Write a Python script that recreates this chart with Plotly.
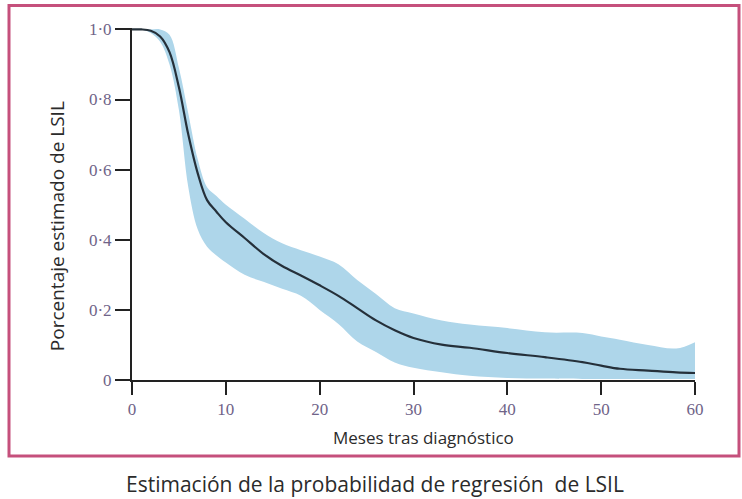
import plotly.graph_objects as go

# Data
months = [0, 1, 2, 3, 4, 5, 6, 7, 8, 9, 10, 12, 14, 16, 18, 20, 22, 24, 26, 28, 30,
          33, 36, 40, 44, 48, 50, 52, 55, 58, 60]
estimate = [1.0, 1.0, 0.996, 0.98, 0.935, 0.835, 0.70, 0.59, 0.513, 0.48, 0.45, 0.405,
            0.36, 0.325, 0.298, 0.27, 0.24, 0.205, 0.17, 0.142, 0.12,
            0.101, 0.092, 0.077, 0.065, 0.051, 0.041, 0.032, 0.027, 0.022, 0.02]
upper = [1.0, 1.0, 1.0, 1.0, 0.985, 0.89, 0.76, 0.63, 0.55, 0.525, 0.50, 0.46,
         0.42, 0.39, 0.37, 0.352, 0.33, 0.285, 0.245, 0.205, 0.19,
         0.17, 0.158, 0.148, 0.136, 0.134, 0.124, 0.115, 0.10, 0.09, 0.108]
lower = [1.0, 1.0, 0.99, 0.965, 0.90, 0.77, 0.55, 0.43, 0.38, 0.355, 0.335, 0.30,
         0.28, 0.26, 0.24, 0.20, 0.16, 0.11, 0.08, 0.05, 0.035,
         0.022, 0.012, 0.006, 0.004, 0.003, 0.003, 0.003, 0.003, 0.003, 0.003]

x_tickvals = [0, 10, 20, 30, 40, 50, 60]
x_ticktext = ["0", "10", "20", "30", "40", "50", "60"]
y_tickvals = [0, 0.2, 0.4, 0.6, 0.8, 1.0]
y_ticktext = ["0", "0·2", "0·4", "0·6", "0·8", "1·0"]

band_color = "#aed6ea"
line_color = "#25303a"
tick_font = dict(family="Liberation Serif", size=17, color="#6f6388")

fig = go.Figure()
fig.add_trace(go.Scatter(x=months, y=lower, mode="lines", line=dict(width=0, shape="spline"),
                         hoverinfo="skip", showlegend=False))
fig.add_trace(go.Scatter(x=months, y=upper, mode="lines", line=dict(width=0, shape="spline"),
                         fill="tonexty", fillcolor=band_color, hoverinfo="skip", showlegend=False))
fig.add_trace(go.Scatter(x=months, y=estimate, mode="lines",
                         line=dict(color=line_color, width=2.2, shape="spline"), showlegend=False))

fig.update_layout(
    width=742, height=499,
    margin=dict(l=132, r=47, t=28, b=119),
    paper_bgcolor="white", plot_bgcolor="white",
    xaxis=dict(range=[0, 60], tickvals=x_tickvals, ticktext=x_ticktext,
               showgrid=False, zeroline=False, showline=True, linecolor="#222", linewidth=2,
               ticks="outside", ticklen=13, tickwidth=2, tickcolor="#222",
               tickfont=tick_font),
    yaxis=dict(range=[0, 1.004], tickvals=y_tickvals, ticktext=y_ticktext,
               showgrid=False, zeroline=False, showline=True, linecolor="#222", linewidth=2,
               ticks="outside", ticklen=15, tickwidth=2, tickcolor="#222",
               tickfont=tick_font),
    shapes=[dict(type="rect", xref="paper", yref="paper",
                 x0=(9 - 132) / 563, x1=(739 - 132) / 563,
                 y0=(380 - 456) / 352.4, y1=(380 - 5) / 352.4,
                 line=dict(color="#c5507c", width=3))],
    annotations=[
        dict(text="Porcentaje estimado de LSIL", xref="paper", yref="paper",
             x=(57 - 132) / 563, y=(380 - 226) / 352.4, textangle=-90, showarrow=False,
             xanchor="center", yanchor="middle",
             font=dict(family="Open Sans", size=19, color="#2b2b2b")),
        dict(text="Meses tras diagnóstico", xref="paper", yref="paper",
             x=(423 - 132) / 563, y=(380 - 438) / 352.4, showarrow=False,
             xanchor="center", yanchor="middle",
             font=dict(family="Open Sans", size=17, color="#2b2b2b")),
        dict(text="Estimación de la probabilidad de regresión  de LSIL", xref="paper", yref="paper",
             x=(375 - 132) / 563, y=(380 - 484) / 352.4, showarrow=False,
             xanchor="center", yanchor="middle",
             font=dict(family="Open Sans", size=21, color="#2b2b2b")),
    ],
)

fig.write_html("out.html")
